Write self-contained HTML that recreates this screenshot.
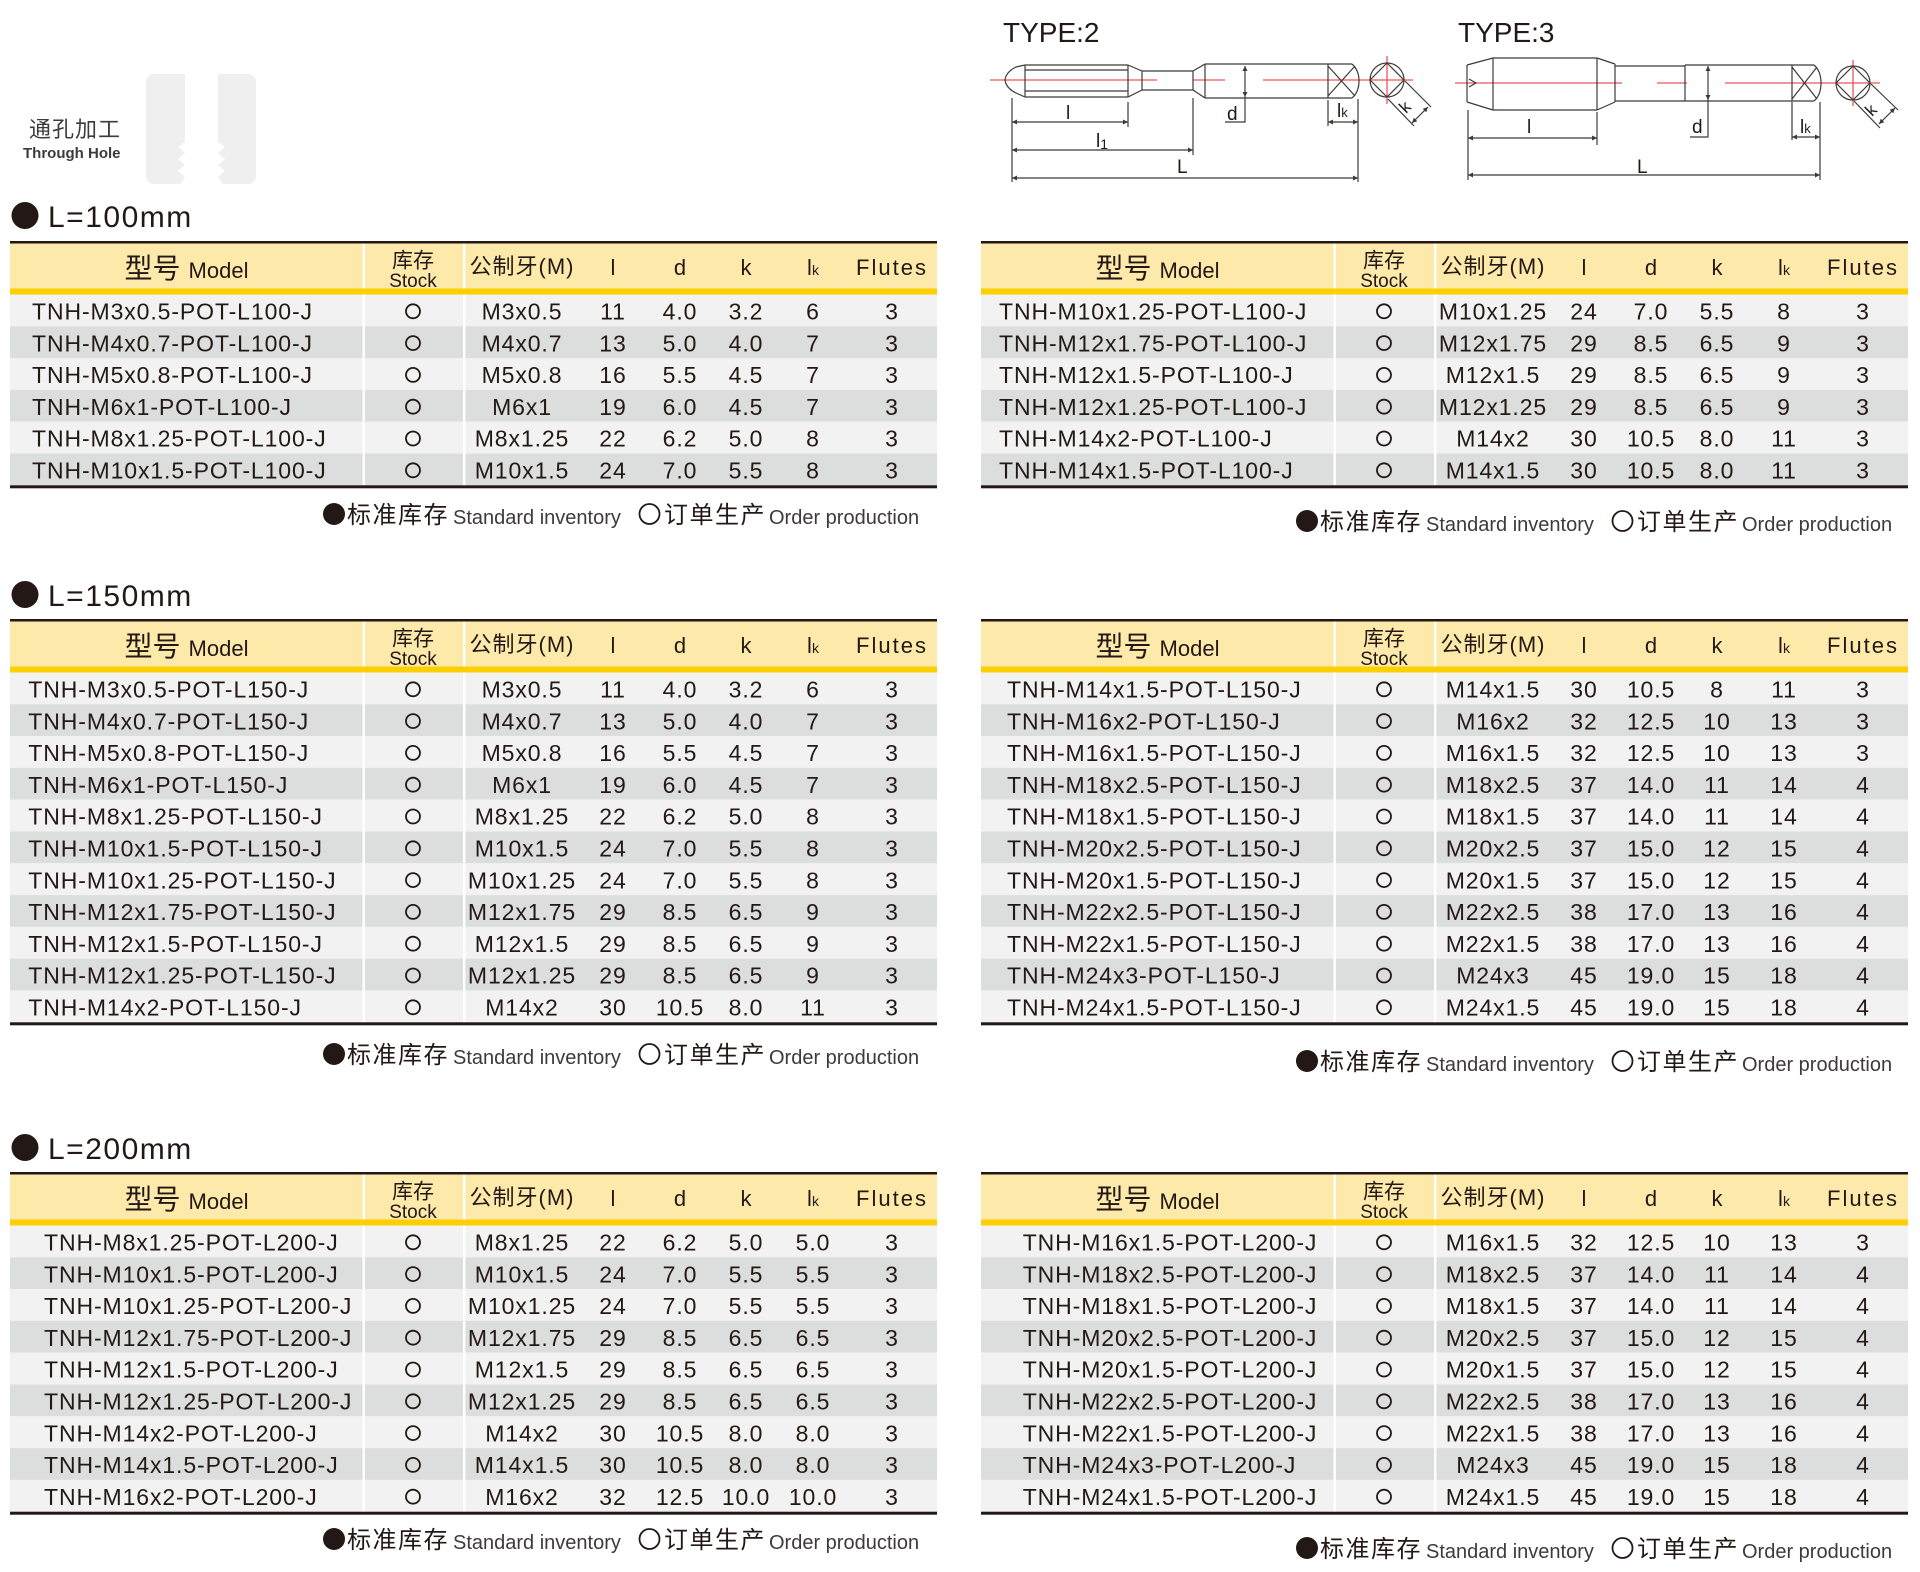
<!DOCTYPE html>
<html>
<head>
<meta charset="utf-8">
<style>
html,body{margin:0;padding:0;background:#fff;}
body{width:1920px;height:1572px;overflow:hidden;position:relative;}
svg{position:absolute;left:0;top:0;}
text{font-family:"Liberation Sans","Noto Sans CJK SC",sans-serif;fill:#231815;}
.r{font-size:23px;letter-spacing:0.9px;}
.c{text-anchor:middle;}
.o{fill:none;stroke:#231815;stroke-width:1.8;}
.h{font-size:22px;}
.dg{stroke:#3e3a39;stroke-width:1.2;fill:none;}
.rd{stroke:#e9545e;stroke-width:1.3;fill:none;}
.dt{font-size:19px;}
</style>
</head>
<body>
<svg width="1920" height="1572" viewBox="0 0 1920 1572" xmlns="http://www.w3.org/2000/svg">
<defs>
<marker id="ar" viewBox="0 0 10 10" refX="10" refY="5" markerWidth="7" markerHeight="5" markerUnits="userSpaceOnUse" orient="auto-start-reverse"><path d="M0,0 L10,5 L0,10 z" fill="#3e3a39"/></marker>
</defs>

<!-- Logo -->
<rect x="146" y="74" width="110" height="110" rx="8" fill="#efefef"/>
<polygon fill="#fff" points="185,74 218,74 218,142 225,147 218,153 225,159 218,165 225,171 218,177 223,184 180,184 185,177 178,171 185,165 178,159 185,153 178,147 185,142"/>
<text x="29" y="137" font-size="22" letter-spacing="1" style="fill:#3e3a39">通孔加工</text>
<text x="23" y="158" font-size="15" font-weight="bold" style="fill:#3e3a39">Through Hole</text>

<!-- TYPE 2 -->
<text x="1003" y="42" font-size="28">TYPE:2</text>
<path class="rd" d="M990,80 H1157 M1193,80 H1225 M1263,80 H1413 M1387,56 V104"/>
<path class="dg" d="M1025,65 L1016,67 Q1006,72 1005,80 Q1006,88 1016,93 L1025,97"/>
<path class="dg" d="M1025,65 H1128 M1025,97 H1128 M1025,70 H1128 M1025,91 H1128 M1025,65 V97 M1128,65 V97"/>
<path class="dg" d="M1128,65 L1142,71 M1128,97 L1142,90 M1142,71 V90 M1142,71 H1193 M1142,90 H1193 M1193,71 V90 M1193,71 L1205,64 M1193,90 L1205,98 M1205,64 V98"/>
<path class="dg" d="M1205,64 H1352 M1205,98 H1352 M1328,64 V98 M1328,66 L1355,96 M1328,96 L1355,66 M1352,64 Q1359,70 1359,81 Q1359,92 1352,98"/>
<circle class="dg" cx="1387" cy="80" r="17"/>
<path class="dg" d="M1387,63 L1404,80 L1387,97 L1370,80 Z"/>
<path class="dg" d="M1388,99 L1414,126 M1405,81 L1431,107"/>
<path class="dg" d="M1412,123 L1428,107" marker-start="url(#ar)" marker-end="url(#ar)"/>
<text transform="translate(1406,114) rotate(-45)" font-size="17">k</text>
<path class="dg" d="M1012,98 V182 M1128,102 V127 M1193,98 V155 M1358,99 V182 M1328,100 V126 M1245,97 V122 H1225"/>
<path class="dg" d="M1012,122 H1128" marker-start="url(#ar)" marker-end="url(#ar)"/>
<path class="dg" d="M1012,150 H1193" marker-start="url(#ar)" marker-end="url(#ar)"/>
<path class="dg" d="M1012,178 H1358" marker-start="url(#ar)" marker-end="url(#ar)"/>
<path class="dg" d="M1328,122 H1358" marker-start="url(#ar)" marker-end="url(#ar)"/>
<path class="dg" d="M1245,66 V97" marker-start="url(#ar)" marker-end="url(#ar)"/>
<text x="1066" y="119" class="dt">l</text>
<text x="1096" y="147" class="dt">l<tspan font-size="14" dy="2">1</tspan></text>
<text x="1177" y="173" class="dt">L</text>
<text x="1227" y="120" class="dt">d</text>
<text x="1337" y="117" class="dt">l<tspan font-size="13">k</tspan></text>

<!-- TYPE 3 -->
<text x="1458" y="42" font-size="28">TYPE:3</text>
<path class="rd" d="M1455,83 H1622 M1657,83 H1687 M1725,83 H1880 M1853,60 V106"/>
<path class="dg" d="M1467,65 V102 M1467,65 L1493,58 M1467,102 L1493,110 M1493,58 H1597 M1493,110 H1597 M1493,58 V110 M1597,58 V110 M1597,58 L1615,64 M1597,110 L1615,102 M1615,64 V102 M1615,66 H1685 M1615,101 H1685 M1685,65 V101 M1685,65 H1814 M1685,101 H1814 M1792,65 V101 M1792,67 L1817,99 M1792,99 L1817,67 M1814,65 Q1821,71 1821,83 Q1821,95 1814,101 M1469,79 L1476,83 L1469,87"/>
<circle class="dg" cx="1853" cy="83" r="17"/>
<path class="dg" d="M1853,66 L1870,83 L1853,100 L1836,83 Z"/>
<path class="dg" d="M1854,101 L1880,128 M1871,84 L1898,110"/>
<path class="dg" d="M1879,124 L1895,108" marker-start="url(#ar)" marker-end="url(#ar)"/>
<text transform="translate(1872,117) rotate(-45)" font-size="17">k</text>
<path class="dg" d="M1468,110 V180 M1597,112 V145 M1820,102 V180 M1792,102 V140 M1708,100 V137 H1690"/>
<path class="dg" d="M1468,138 H1597" marker-start="url(#ar)" marker-end="url(#ar)"/>
<path class="dg" d="M1468,175 H1820" marker-start="url(#ar)" marker-end="url(#ar)"/>
<path class="dg" d="M1792,137 H1820" marker-start="url(#ar)" marker-end="url(#ar)"/>
<path class="dg" d="M1708,66 V100" marker-start="url(#ar)" marker-end="url(#ar)"/>
<text x="1527" y="133" class="dt">l</text>
<text x="1637" y="173" class="dt">L</text>
<text x="1692" y="133" class="dt">d</text>
<text x="1800" y="133" class="dt">l<tspan font-size="13">k</tspan></text>

<!-- Titles -->
<circle cx="25" cy="215.5" r="13.5" fill="#231815"/>
<text x="48" y="227" font-size="30" letter-spacing="1.5">L=100mm</text>
<circle cx="25" cy="594.5" r="13.5" fill="#231815"/>
<text x="48" y="606" font-size="30" letter-spacing="1.5">L=150mm</text>
<circle cx="25" cy="1147.5" r="13.5" fill="#231815"/>
<text x="48" y="1159" font-size="30" letter-spacing="1.5">L=200mm</text>

<!-- ============ TABLE 1 LEFT ============ -->
<g transform="translate(10,241)">
<rect width="927" height="2.5" fill="#231815"/>
<rect y="2.5" width="927" height="45" fill="#fde9a9"/>
<rect y="47.5" width="927" height="6" fill="#fccf00"/>
<rect x="352.5" y="2.5" width="2.4" height="45" fill="#fff"/>
<rect x="453" y="2.5" width="2.4" height="45" fill="#fff"/>
<text x="176.5" y="37" class="c"><tspan font-size="28">型号</tspan><tspan font-size="22" dx="8">Model</tspan></text>
<text x="403" y="26.5" class="c" font-size="21">库存</text>
<text x="403" y="46" class="c" font-size="19">Stock</text>
<text x="512" y="33" class="c h" letter-spacing="1">公制牙(M)</text>
<text x="603" y="34" class="c h">l</text>
<text x="670" y="34" class="c h">d</text>
<text x="736" y="34" class="c h">k</text>
<text x="803" y="34" class="c"><tspan font-size="22">l</tspan><tspan font-size="14">k</tspan></text>
<text x="882" y="34" class="c h" letter-spacing="2">Flutes</text>
<g transform="translate(0,53.5)"><rect width="927" height="31.8" fill="#f2f2f2"/><text x="22" y="25" class="r">TNH-M3x0.5-POT-L100-J</text><text y="25" class="r c"><tspan x="512">M3x0.5</tspan><tspan x="603">11</tspan><tspan x="670">4.0</tspan><tspan x="736">3.2</tspan><tspan x="803">6</tspan><tspan x="882">3</tspan></text><circle cx="403" cy="16.8" r="7" class="o"/></g>
<g transform="translate(0,85.3)"><rect width="927" height="31.8" fill="#dcdddd"/><text x="22" y="25" class="r">TNH-M4x0.7-POT-L100-J</text><text y="25" class="r c"><tspan x="512">M4x0.7</tspan><tspan x="603">13</tspan><tspan x="670">5.0</tspan><tspan x="736">4.0</tspan><tspan x="803">7</tspan><tspan x="882">3</tspan></text><circle cx="403" cy="16.8" r="7" class="o"/></g>
<g transform="translate(0,117.1)"><rect width="927" height="31.8" fill="#f2f2f2"/><text x="22" y="25" class="r">TNH-M5x0.8-POT-L100-J</text><text y="25" class="r c"><tspan x="512">M5x0.8</tspan><tspan x="603">16</tspan><tspan x="670">5.5</tspan><tspan x="736">4.5</tspan><tspan x="803">7</tspan><tspan x="882">3</tspan></text><circle cx="403" cy="16.8" r="7" class="o"/></g>
<g transform="translate(0,148.9)"><rect width="927" height="31.8" fill="#dcdddd"/><text x="22" y="25" class="r">TNH-M6x1-POT-L100-J</text><text y="25" class="r c"><tspan x="512">M6x1</tspan><tspan x="603">19</tspan><tspan x="670">6.0</tspan><tspan x="736">4.5</tspan><tspan x="803">7</tspan><tspan x="882">3</tspan></text><circle cx="403" cy="16.8" r="7" class="o"/></g>
<g transform="translate(0,180.7)"><rect width="927" height="31.8" fill="#f2f2f2"/><text x="22" y="25" class="r">TNH-M8x1.25-POT-L100-J</text><text y="25" class="r c"><tspan x="512">M8x1.25</tspan><tspan x="603">22</tspan><tspan x="670">6.2</tspan><tspan x="736">5.0</tspan><tspan x="803">8</tspan><tspan x="882">3</tspan></text><circle cx="403" cy="16.8" r="7" class="o"/></g>
<g transform="translate(0,212.5)"><rect width="927" height="31.8" fill="#dcdddd"/><text x="22" y="25" class="r">TNH-M10x1.5-POT-L100-J</text><text y="25" class="r c"><tspan x="512">M10x1.5</tspan><tspan x="603">24</tspan><tspan x="670">7.0</tspan><tspan x="736">5.5</tspan><tspan x="803">8</tspan><tspan x="882">3</tspan></text><circle cx="403" cy="16.8" r="7" class="o"/></g>
<rect x="352.5" y="53.5" width="2.4" height="190.8" fill="#fff"/>
<rect x="453" y="53.5" width="2.4" height="190.8" fill="#fff"/>
<rect y="244.3" width="927" height="3" fill="#231815"/>
</g>

<!-- ============ TABLE 1 RIGHT ============ -->
<g transform="translate(981,241)">
<rect width="927" height="2.5" fill="#231815"/>
<rect y="2.5" width="927" height="45" fill="#fde9a9"/>
<rect y="47.5" width="927" height="6" fill="#fccf00"/>
<rect x="352.5" y="2.5" width="2.4" height="45" fill="#fff"/>
<rect x="453" y="2.5" width="2.4" height="45" fill="#fff"/>
<text x="176.5" y="37" class="c"><tspan font-size="28">型号</tspan><tspan font-size="22" dx="8">Model</tspan></text>
<text x="403" y="26.5" class="c" font-size="21">库存</text>
<text x="403" y="46" class="c" font-size="19">Stock</text>
<text x="512" y="33" class="c h" letter-spacing="1">公制牙(M)</text>
<text x="603" y="34" class="c h">l</text>
<text x="670" y="34" class="c h">d</text>
<text x="736" y="34" class="c h">k</text>
<text x="803" y="34" class="c"><tspan font-size="22">l</tspan><tspan font-size="14">k</tspan></text>
<text x="882" y="34" class="c h" letter-spacing="2">Flutes</text>
<g transform="translate(0,53.5)"><rect width="927" height="31.8" fill="#f2f2f2"/><text x="18" y="25" class="r">TNH-M10x1.25-POT-L100-J</text><text y="25" class="r c"><tspan x="512">M10x1.25</tspan><tspan x="603">24</tspan><tspan x="670">7.0</tspan><tspan x="736">5.5</tspan><tspan x="803">8</tspan><tspan x="882">3</tspan></text><circle cx="403" cy="16.8" r="7" class="o"/></g>
<g transform="translate(0,85.3)"><rect width="927" height="31.8" fill="#dcdddd"/><text x="18" y="25" class="r">TNH-M12x1.75-POT-L100-J</text><text y="25" class="r c"><tspan x="512">M12x1.75</tspan><tspan x="603">29</tspan><tspan x="670">8.5</tspan><tspan x="736">6.5</tspan><tspan x="803">9</tspan><tspan x="882">3</tspan></text><circle cx="403" cy="16.8" r="7" class="o"/></g>
<g transform="translate(0,117.1)"><rect width="927" height="31.8" fill="#f2f2f2"/><text x="18" y="25" class="r">TNH-M12x1.5-POT-L100-J</text><text y="25" class="r c"><tspan x="512">M12x1.5</tspan><tspan x="603">29</tspan><tspan x="670">8.5</tspan><tspan x="736">6.5</tspan><tspan x="803">9</tspan><tspan x="882">3</tspan></text><circle cx="403" cy="16.8" r="7" class="o"/></g>
<g transform="translate(0,148.9)"><rect width="927" height="31.8" fill="#dcdddd"/><text x="18" y="25" class="r">TNH-M12x1.25-POT-L100-J</text><text y="25" class="r c"><tspan x="512">M12x1.25</tspan><tspan x="603">29</tspan><tspan x="670">8.5</tspan><tspan x="736">6.5</tspan><tspan x="803">9</tspan><tspan x="882">3</tspan></text><circle cx="403" cy="16.8" r="7" class="o"/></g>
<g transform="translate(0,180.7)"><rect width="927" height="31.8" fill="#f2f2f2"/><text x="18" y="25" class="r">TNH-M14x2-POT-L100-J</text><text y="25" class="r c"><tspan x="512">M14x2</tspan><tspan x="603">30</tspan><tspan x="670">10.5</tspan><tspan x="736">8.0</tspan><tspan x="803">11</tspan><tspan x="882">3</tspan></text><circle cx="403" cy="16.8" r="7" class="o"/></g>
<g transform="translate(0,212.5)"><rect width="927" height="31.8" fill="#dcdddd"/><text x="18" y="25" class="r">TNH-M14x1.5-POT-L100-J</text><text y="25" class="r c"><tspan x="512">M14x1.5</tspan><tspan x="603">30</tspan><tspan x="670">10.5</tspan><tspan x="736">8.0</tspan><tspan x="803">11</tspan><tspan x="882">3</tspan></text><circle cx="403" cy="16.8" r="7" class="o"/></g>
<rect x="352.5" y="53.5" width="2.4" height="190.8" fill="#fff"/>
<rect x="453" y="53.5" width="2.4" height="190.8" fill="#fff"/>
<rect y="244.3" width="927" height="3" fill="#231815"/>
</g>

<!-- ============ TABLE 2 LEFT ============ -->
<g transform="translate(10,619)">
<rect width="927" height="2.5" fill="#231815"/>
<rect y="2.5" width="927" height="45" fill="#fde9a9"/>
<rect y="47.5" width="927" height="6" fill="#fccf00"/>
<rect x="352.5" y="2.5" width="2.4" height="45" fill="#fff"/>
<rect x="453" y="2.5" width="2.4" height="45" fill="#fff"/>
<text x="176.5" y="37" class="c"><tspan font-size="28">型号</tspan><tspan font-size="22" dx="8">Model</tspan></text>
<text x="403" y="26.5" class="c" font-size="21">库存</text>
<text x="403" y="46" class="c" font-size="19">Stock</text>
<text x="512" y="33" class="c h" letter-spacing="1">公制牙(M)</text>
<text x="603" y="34" class="c h">l</text>
<text x="670" y="34" class="c h">d</text>
<text x="736" y="34" class="c h">k</text>
<text x="803" y="34" class="c"><tspan font-size="22">l</tspan><tspan font-size="14">k</tspan></text>
<text x="882" y="34" class="c h" letter-spacing="2">Flutes</text>
<g transform="translate(0,53.5)"><rect width="927" height="31.8" fill="#f2f2f2"/><text x="18.3" y="25" class="r">TNH-M3x0.5-POT-L150-J</text><text y="25" class="r c"><tspan x="512">M3x0.5</tspan><tspan x="603">11</tspan><tspan x="670">4.0</tspan><tspan x="736">3.2</tspan><tspan x="803">6</tspan><tspan x="882">3</tspan></text><circle cx="403" cy="16.8" r="7" class="o"/></g>
<g transform="translate(0,85.3)"><rect width="927" height="31.8" fill="#dcdddd"/><text x="18.3" y="25" class="r">TNH-M4x0.7-POT-L150-J</text><text y="25" class="r c"><tspan x="512">M4x0.7</tspan><tspan x="603">13</tspan><tspan x="670">5.0</tspan><tspan x="736">4.0</tspan><tspan x="803">7</tspan><tspan x="882">3</tspan></text><circle cx="403" cy="16.8" r="7" class="o"/></g>
<g transform="translate(0,117.1)"><rect width="927" height="31.8" fill="#f2f2f2"/><text x="18.3" y="25" class="r">TNH-M5x0.8-POT-L150-J</text><text y="25" class="r c"><tspan x="512">M5x0.8</tspan><tspan x="603">16</tspan><tspan x="670">5.5</tspan><tspan x="736">4.5</tspan><tspan x="803">7</tspan><tspan x="882">3</tspan></text><circle cx="403" cy="16.8" r="7" class="o"/></g>
<g transform="translate(0,148.9)"><rect width="927" height="31.8" fill="#dcdddd"/><text x="18.3" y="25" class="r">TNH-M6x1-POT-L150-J</text><text y="25" class="r c"><tspan x="512">M6x1</tspan><tspan x="603">19</tspan><tspan x="670">6.0</tspan><tspan x="736">4.5</tspan><tspan x="803">7</tspan><tspan x="882">3</tspan></text><circle cx="403" cy="16.8" r="7" class="o"/></g>
<g transform="translate(0,180.7)"><rect width="927" height="31.8" fill="#f2f2f2"/><text x="18.3" y="25" class="r">TNH-M8x1.25-POT-L150-J</text><text y="25" class="r c"><tspan x="512">M8x1.25</tspan><tspan x="603">22</tspan><tspan x="670">6.2</tspan><tspan x="736">5.0</tspan><tspan x="803">8</tspan><tspan x="882">3</tspan></text><circle cx="403" cy="16.8" r="7" class="o"/></g>
<g transform="translate(0,212.5)"><rect width="927" height="31.8" fill="#dcdddd"/><text x="18.3" y="25" class="r">TNH-M10x1.5-POT-L150-J</text><text y="25" class="r c"><tspan x="512">M10x1.5</tspan><tspan x="603">24</tspan><tspan x="670">7.0</tspan><tspan x="736">5.5</tspan><tspan x="803">8</tspan><tspan x="882">3</tspan></text><circle cx="403" cy="16.8" r="7" class="o"/></g>
<g transform="translate(0,244.3)"><rect width="927" height="31.8" fill="#f2f2f2"/><text x="18.3" y="25" class="r">TNH-M10x1.25-POT-L150-J</text><text y="25" class="r c"><tspan x="512">M10x1.25</tspan><tspan x="603">24</tspan><tspan x="670">7.0</tspan><tspan x="736">5.5</tspan><tspan x="803">8</tspan><tspan x="882">3</tspan></text><circle cx="403" cy="16.8" r="7" class="o"/></g>
<g transform="translate(0,276.1)"><rect width="927" height="31.8" fill="#dcdddd"/><text x="18.3" y="25" class="r">TNH-M12x1.75-POT-L150-J</text><text y="25" class="r c"><tspan x="512">M12x1.75</tspan><tspan x="603">29</tspan><tspan x="670">8.5</tspan><tspan x="736">6.5</tspan><tspan x="803">9</tspan><tspan x="882">3</tspan></text><circle cx="403" cy="16.8" r="7" class="o"/></g>
<g transform="translate(0,307.9)"><rect width="927" height="31.8" fill="#f2f2f2"/><text x="18.3" y="25" class="r">TNH-M12x1.5-POT-L150-J</text><text y="25" class="r c"><tspan x="512">M12x1.5</tspan><tspan x="603">29</tspan><tspan x="670">8.5</tspan><tspan x="736">6.5</tspan><tspan x="803">9</tspan><tspan x="882">3</tspan></text><circle cx="403" cy="16.8" r="7" class="o"/></g>
<g transform="translate(0,339.7)"><rect width="927" height="31.8" fill="#dcdddd"/><text x="18.3" y="25" class="r">TNH-M12x1.25-POT-L150-J</text><text y="25" class="r c"><tspan x="512">M12x1.25</tspan><tspan x="603">29</tspan><tspan x="670">8.5</tspan><tspan x="736">6.5</tspan><tspan x="803">9</tspan><tspan x="882">3</tspan></text><circle cx="403" cy="16.8" r="7" class="o"/></g>
<g transform="translate(0,371.5)"><rect width="927" height="31.8" fill="#f2f2f2"/><text x="18.3" y="25" class="r">TNH-M14x2-POT-L150-J</text><text y="25" class="r c"><tspan x="512">M14x2</tspan><tspan x="603">30</tspan><tspan x="670">10.5</tspan><tspan x="736">8.0</tspan><tspan x="803">11</tspan><tspan x="882">3</tspan></text><circle cx="403" cy="16.8" r="7" class="o"/></g>
<rect x="352.5" y="53.5" width="2.4" height="349.8" fill="#fff"/>
<rect x="453" y="53.5" width="2.4" height="349.8" fill="#fff"/>
<rect y="403.3" width="927" height="3" fill="#231815"/>
</g>

<!-- ============ TABLE 2 RIGHT ============ -->
<g transform="translate(981,619)">
<rect width="927" height="2.5" fill="#231815"/>
<rect y="2.5" width="927" height="45" fill="#fde9a9"/>
<rect y="47.5" width="927" height="6" fill="#fccf00"/>
<rect x="352.5" y="2.5" width="2.4" height="45" fill="#fff"/>
<rect x="453" y="2.5" width="2.4" height="45" fill="#fff"/>
<text x="176.5" y="37" class="c"><tspan font-size="28">型号</tspan><tspan font-size="22" dx="8">Model</tspan></text>
<text x="403" y="26.5" class="c" font-size="21">库存</text>
<text x="403" y="46" class="c" font-size="19">Stock</text>
<text x="512" y="33" class="c h" letter-spacing="1">公制牙(M)</text>
<text x="603" y="34" class="c h">l</text>
<text x="670" y="34" class="c h">d</text>
<text x="736" y="34" class="c h">k</text>
<text x="803" y="34" class="c"><tspan font-size="22">l</tspan><tspan font-size="14">k</tspan></text>
<text x="882" y="34" class="c h" letter-spacing="2">Flutes</text>
<g transform="translate(0,53.5)"><rect width="927" height="31.8" fill="#f2f2f2"/><text x="26" y="25" class="r">TNH-M14x1.5-POT-L150-J</text><text y="25" class="r c"><tspan x="512">M14x1.5</tspan><tspan x="603">30</tspan><tspan x="670">10.5</tspan><tspan x="736">8</tspan><tspan x="803">11</tspan><tspan x="882">3</tspan></text><circle cx="403" cy="16.8" r="7" class="o"/></g>
<g transform="translate(0,85.3)"><rect width="927" height="31.8" fill="#dcdddd"/><text x="26" y="25" class="r">TNH-M16x2-POT-L150-J</text><text y="25" class="r c"><tspan x="512">M16x2</tspan><tspan x="603">32</tspan><tspan x="670">12.5</tspan><tspan x="736">10</tspan><tspan x="803">13</tspan><tspan x="882">3</tspan></text><circle cx="403" cy="16.8" r="7" class="o"/></g>
<g transform="translate(0,117.1)"><rect width="927" height="31.8" fill="#f2f2f2"/><text x="26" y="25" class="r">TNH-M16x1.5-POT-L150-J</text><text y="25" class="r c"><tspan x="512">M16x1.5</tspan><tspan x="603">32</tspan><tspan x="670">12.5</tspan><tspan x="736">10</tspan><tspan x="803">13</tspan><tspan x="882">3</tspan></text><circle cx="403" cy="16.8" r="7" class="o"/></g>
<g transform="translate(0,148.9)"><rect width="927" height="31.8" fill="#dcdddd"/><text x="26" y="25" class="r">TNH-M18x2.5-POT-L150-J</text><text y="25" class="r c"><tspan x="512">M18x2.5</tspan><tspan x="603">37</tspan><tspan x="670">14.0</tspan><tspan x="736">11</tspan><tspan x="803">14</tspan><tspan x="882">4</tspan></text><circle cx="403" cy="16.8" r="7" class="o"/></g>
<g transform="translate(0,180.7)"><rect width="927" height="31.8" fill="#f2f2f2"/><text x="26" y="25" class="r">TNH-M18x1.5-POT-L150-J</text><text y="25" class="r c"><tspan x="512">M18x1.5</tspan><tspan x="603">37</tspan><tspan x="670">14.0</tspan><tspan x="736">11</tspan><tspan x="803">14</tspan><tspan x="882">4</tspan></text><circle cx="403" cy="16.8" r="7" class="o"/></g>
<g transform="translate(0,212.5)"><rect width="927" height="31.8" fill="#dcdddd"/><text x="26" y="25" class="r">TNH-M20x2.5-POT-L150-J</text><text y="25" class="r c"><tspan x="512">M20x2.5</tspan><tspan x="603">37</tspan><tspan x="670">15.0</tspan><tspan x="736">12</tspan><tspan x="803">15</tspan><tspan x="882">4</tspan></text><circle cx="403" cy="16.8" r="7" class="o"/></g>
<g transform="translate(0,244.3)"><rect width="927" height="31.8" fill="#f2f2f2"/><text x="26" y="25" class="r">TNH-M20x1.5-POT-L150-J</text><text y="25" class="r c"><tspan x="512">M20x1.5</tspan><tspan x="603">37</tspan><tspan x="670">15.0</tspan><tspan x="736">12</tspan><tspan x="803">15</tspan><tspan x="882">4</tspan></text><circle cx="403" cy="16.8" r="7" class="o"/></g>
<g transform="translate(0,276.1)"><rect width="927" height="31.8" fill="#dcdddd"/><text x="26" y="25" class="r">TNH-M22x2.5-POT-L150-J</text><text y="25" class="r c"><tspan x="512">M22x2.5</tspan><tspan x="603">38</tspan><tspan x="670">17.0</tspan><tspan x="736">13</tspan><tspan x="803">16</tspan><tspan x="882">4</tspan></text><circle cx="403" cy="16.8" r="7" class="o"/></g>
<g transform="translate(0,307.9)"><rect width="927" height="31.8" fill="#f2f2f2"/><text x="26" y="25" class="r">TNH-M22x1.5-POT-L150-J</text><text y="25" class="r c"><tspan x="512">M22x1.5</tspan><tspan x="603">38</tspan><tspan x="670">17.0</tspan><tspan x="736">13</tspan><tspan x="803">16</tspan><tspan x="882">4</tspan></text><circle cx="403" cy="16.8" r="7" class="o"/></g>
<g transform="translate(0,339.7)"><rect width="927" height="31.8" fill="#dcdddd"/><text x="26" y="25" class="r">TNH-M24x3-POT-L150-J</text><text y="25" class="r c"><tspan x="512">M24x3</tspan><tspan x="603">45</tspan><tspan x="670">19.0</tspan><tspan x="736">15</tspan><tspan x="803">18</tspan><tspan x="882">4</tspan></text><circle cx="403" cy="16.8" r="7" class="o"/></g>
<g transform="translate(0,371.5)"><rect width="927" height="31.8" fill="#f2f2f2"/><text x="26" y="25" class="r">TNH-M24x1.5-POT-L150-J</text><text y="25" class="r c"><tspan x="512">M24x1.5</tspan><tspan x="603">45</tspan><tspan x="670">19.0</tspan><tspan x="736">15</tspan><tspan x="803">18</tspan><tspan x="882">4</tspan></text><circle cx="403" cy="16.8" r="7" class="o"/></g>
<rect x="352.5" y="53.5" width="2.4" height="349.8" fill="#fff"/>
<rect x="453" y="53.5" width="2.4" height="349.8" fill="#fff"/>
<rect y="403.3" width="927" height="3" fill="#231815"/>
</g>

<!-- ============ TABLE 3 LEFT ============ -->
<g transform="translate(10,1172)">
<rect width="927" height="2.5" fill="#231815"/>
<rect y="2.5" width="927" height="45" fill="#fde9a9"/>
<rect y="47.5" width="927" height="6" fill="#fccf00"/>
<rect x="352.5" y="2.5" width="2.4" height="45" fill="#fff"/>
<rect x="453" y="2.5" width="2.4" height="45" fill="#fff"/>
<text x="176.5" y="37" class="c"><tspan font-size="28">型号</tspan><tspan font-size="22" dx="8">Model</tspan></text>
<text x="403" y="26.5" class="c" font-size="21">库存</text>
<text x="403" y="46" class="c" font-size="19">Stock</text>
<text x="512" y="33" class="c h" letter-spacing="1">公制牙(M)</text>
<text x="603" y="34" class="c h">l</text>
<text x="670" y="34" class="c h">d</text>
<text x="736" y="34" class="c h">k</text>
<text x="803" y="34" class="c"><tspan font-size="22">l</tspan><tspan font-size="14">k</tspan></text>
<text x="882" y="34" class="c h" letter-spacing="2">Flutes</text>
<g transform="translate(0,53.5)"><rect width="927" height="31.8" fill="#f2f2f2"/><text x="34" y="25" class="r">TNH-M8x1.25-POT-L200-J</text><text y="25" class="r c"><tspan x="512">M8x1.25</tspan><tspan x="603">22</tspan><tspan x="670">6.2</tspan><tspan x="736">5.0</tspan><tspan x="803">5.0</tspan><tspan x="882">3</tspan></text><circle cx="403" cy="16.8" r="7" class="o"/></g>
<g transform="translate(0,85.3)"><rect width="927" height="31.8" fill="#dcdddd"/><text x="34" y="25" class="r">TNH-M10x1.5-POT-L200-J</text><text y="25" class="r c"><tspan x="512">M10x1.5</tspan><tspan x="603">24</tspan><tspan x="670">7.0</tspan><tspan x="736">5.5</tspan><tspan x="803">5.5</tspan><tspan x="882">3</tspan></text><circle cx="403" cy="16.8" r="7" class="o"/></g>
<g transform="translate(0,117.1)"><rect width="927" height="31.8" fill="#f2f2f2"/><text x="34" y="25" class="r">TNH-M10x1.25-POT-L200-J</text><text y="25" class="r c"><tspan x="512">M10x1.25</tspan><tspan x="603">24</tspan><tspan x="670">7.0</tspan><tspan x="736">5.5</tspan><tspan x="803">5.5</tspan><tspan x="882">3</tspan></text><circle cx="403" cy="16.8" r="7" class="o"/></g>
<g transform="translate(0,148.9)"><rect width="927" height="31.8" fill="#dcdddd"/><text x="34" y="25" class="r">TNH-M12x1.75-POT-L200-J</text><text y="25" class="r c"><tspan x="512">M12x1.75</tspan><tspan x="603">29</tspan><tspan x="670">8.5</tspan><tspan x="736">6.5</tspan><tspan x="803">6.5</tspan><tspan x="882">3</tspan></text><circle cx="403" cy="16.8" r="7" class="o"/></g>
<g transform="translate(0,180.7)"><rect width="927" height="31.8" fill="#f2f2f2"/><text x="34" y="25" class="r">TNH-M12x1.5-POT-L200-J</text><text y="25" class="r c"><tspan x="512">M12x1.5</tspan><tspan x="603">29</tspan><tspan x="670">8.5</tspan><tspan x="736">6.5</tspan><tspan x="803">6.5</tspan><tspan x="882">3</tspan></text><circle cx="403" cy="16.8" r="7" class="o"/></g>
<g transform="translate(0,212.5)"><rect width="927" height="31.8" fill="#dcdddd"/><text x="34" y="25" class="r">TNH-M12x1.25-POT-L200-J</text><text y="25" class="r c"><tspan x="512">M12x1.25</tspan><tspan x="603">29</tspan><tspan x="670">8.5</tspan><tspan x="736">6.5</tspan><tspan x="803">6.5</tspan><tspan x="882">3</tspan></text><circle cx="403" cy="16.8" r="7" class="o"/></g>
<g transform="translate(0,244.3)"><rect width="927" height="31.8" fill="#f2f2f2"/><text x="34" y="25" class="r">TNH-M14x2-POT-L200-J</text><text y="25" class="r c"><tspan x="512">M14x2</tspan><tspan x="603">30</tspan><tspan x="670">10.5</tspan><tspan x="736">8.0</tspan><tspan x="803">8.0</tspan><tspan x="882">3</tspan></text><circle cx="403" cy="16.8" r="7" class="o"/></g>
<g transform="translate(0,276.1)"><rect width="927" height="31.8" fill="#dcdddd"/><text x="34" y="25" class="r">TNH-M14x1.5-POT-L200-J</text><text y="25" class="r c"><tspan x="512">M14x1.5</tspan><tspan x="603">30</tspan><tspan x="670">10.5</tspan><tspan x="736">8.0</tspan><tspan x="803">8.0</tspan><tspan x="882">3</tspan></text><circle cx="403" cy="16.8" r="7" class="o"/></g>
<g transform="translate(0,307.9)"><rect width="927" height="31.8" fill="#f2f2f2"/><text x="34" y="25" class="r">TNH-M16x2-POT-L200-J</text><text y="25" class="r c"><tspan x="512">M16x2</tspan><tspan x="603">32</tspan><tspan x="670">12.5</tspan><tspan x="736">10.0</tspan><tspan x="803">10.0</tspan><tspan x="882">3</tspan></text><circle cx="403" cy="16.8" r="7" class="o"/></g>
<rect x="352.5" y="53.5" width="2.4" height="286.2" fill="#fff"/>
<rect x="453" y="53.5" width="2.4" height="286.2" fill="#fff"/>
<rect y="339.7" width="927" height="3" fill="#231815"/>
</g>

<!-- ============ TABLE 3 RIGHT ============ -->
<g transform="translate(981,1172)">
<rect width="927" height="2.5" fill="#231815"/>
<rect y="2.5" width="927" height="45" fill="#fde9a9"/>
<rect y="47.5" width="927" height="6" fill="#fccf00"/>
<rect x="352.5" y="2.5" width="2.4" height="45" fill="#fff"/>
<rect x="453" y="2.5" width="2.4" height="45" fill="#fff"/>
<text x="176.5" y="37" class="c"><tspan font-size="28">型号</tspan><tspan font-size="22" dx="8">Model</tspan></text>
<text x="403" y="26.5" class="c" font-size="21">库存</text>
<text x="403" y="46" class="c" font-size="19">Stock</text>
<text x="512" y="33" class="c h" letter-spacing="1">公制牙(M)</text>
<text x="603" y="34" class="c h">l</text>
<text x="670" y="34" class="c h">d</text>
<text x="736" y="34" class="c h">k</text>
<text x="803" y="34" class="c"><tspan font-size="22">l</tspan><tspan font-size="14">k</tspan></text>
<text x="882" y="34" class="c h" letter-spacing="2">Flutes</text>
<g transform="translate(0,53.5)"><rect width="927" height="31.8" fill="#f2f2f2"/><text x="41.7" y="25" class="r">TNH-M16x1.5-POT-L200-J</text><text y="25" class="r c"><tspan x="512">M16x1.5</tspan><tspan x="603">32</tspan><tspan x="670">12.5</tspan><tspan x="736">10</tspan><tspan x="803">13</tspan><tspan x="882">3</tspan></text><circle cx="403" cy="16.8" r="7" class="o"/></g>
<g transform="translate(0,85.3)"><rect width="927" height="31.8" fill="#dcdddd"/><text x="41.7" y="25" class="r">TNH-M18x2.5-POT-L200-J</text><text y="25" class="r c"><tspan x="512">M18x2.5</tspan><tspan x="603">37</tspan><tspan x="670">14.0</tspan><tspan x="736">11</tspan><tspan x="803">14</tspan><tspan x="882">4</tspan></text><circle cx="403" cy="16.8" r="7" class="o"/></g>
<g transform="translate(0,117.1)"><rect width="927" height="31.8" fill="#f2f2f2"/><text x="41.7" y="25" class="r">TNH-M18x1.5-POT-L200-J</text><text y="25" class="r c"><tspan x="512">M18x1.5</tspan><tspan x="603">37</tspan><tspan x="670">14.0</tspan><tspan x="736">11</tspan><tspan x="803">14</tspan><tspan x="882">4</tspan></text><circle cx="403" cy="16.8" r="7" class="o"/></g>
<g transform="translate(0,148.9)"><rect width="927" height="31.8" fill="#dcdddd"/><text x="41.7" y="25" class="r">TNH-M20x2.5-POT-L200-J</text><text y="25" class="r c"><tspan x="512">M20x2.5</tspan><tspan x="603">37</tspan><tspan x="670">15.0</tspan><tspan x="736">12</tspan><tspan x="803">15</tspan><tspan x="882">4</tspan></text><circle cx="403" cy="16.8" r="7" class="o"/></g>
<g transform="translate(0,180.7)"><rect width="927" height="31.8" fill="#f2f2f2"/><text x="41.7" y="25" class="r">TNH-M20x1.5-POT-L200-J</text><text y="25" class="r c"><tspan x="512">M20x1.5</tspan><tspan x="603">37</tspan><tspan x="670">15.0</tspan><tspan x="736">12</tspan><tspan x="803">15</tspan><tspan x="882">4</tspan></text><circle cx="403" cy="16.8" r="7" class="o"/></g>
<g transform="translate(0,212.5)"><rect width="927" height="31.8" fill="#dcdddd"/><text x="41.7" y="25" class="r">TNH-M22x2.5-POT-L200-J</text><text y="25" class="r c"><tspan x="512">M22x2.5</tspan><tspan x="603">38</tspan><tspan x="670">17.0</tspan><tspan x="736">13</tspan><tspan x="803">16</tspan><tspan x="882">4</tspan></text><circle cx="403" cy="16.8" r="7" class="o"/></g>
<g transform="translate(0,244.3)"><rect width="927" height="31.8" fill="#f2f2f2"/><text x="41.7" y="25" class="r">TNH-M22x1.5-POT-L200-J</text><text y="25" class="r c"><tspan x="512">M22x1.5</tspan><tspan x="603">38</tspan><tspan x="670">17.0</tspan><tspan x="736">13</tspan><tspan x="803">16</tspan><tspan x="882">4</tspan></text><circle cx="403" cy="16.8" r="7" class="o"/></g>
<g transform="translate(0,276.1)"><rect width="927" height="31.8" fill="#dcdddd"/><text x="41.7" y="25" class="r">TNH-M24x3-POT-L200-J</text><text y="25" class="r c"><tspan x="512">M24x3</tspan><tspan x="603">45</tspan><tspan x="670">19.0</tspan><tspan x="736">15</tspan><tspan x="803">18</tspan><tspan x="882">4</tspan></text><circle cx="403" cy="16.8" r="7" class="o"/></g>
<g transform="translate(0,307.9)"><rect width="927" height="31.8" fill="#f2f2f2"/><text x="41.7" y="25" class="r">TNH-M24x1.5-POT-L200-J</text><text y="25" class="r c"><tspan x="512">M24x1.5</tspan><tspan x="603">45</tspan><tspan x="670">19.0</tspan><tspan x="736">15</tspan><tspan x="803">18</tspan><tspan x="882">4</tspan></text><circle cx="403" cy="16.8" r="7" class="o"/></g>
<rect x="352.5" y="53.5" width="2.4" height="286.2" fill="#fff"/>
<rect x="453" y="53.5" width="2.4" height="286.2" fill="#fff"/>
<rect y="339.7" width="927" height="3" fill="#231815"/>
</g>

<!-- ============ LEGENDS ============ -->
<g transform="translate(0,0)">
<circle cx="334" cy="514" r="11" fill="#231815"/>
<text x="347" y="523" font-size="24" letter-spacing="1.5">标准库存</text>
<text x="453" y="524" font-size="20" style="fill:#3e3a39">Standard inventory</text>
<circle cx="649.5" cy="514" r="10" class="o"/>
<text x="664" y="523" font-size="24" letter-spacing="1.5">订单生产</text>
<text x="769" y="524" font-size="20" style="fill:#3e3a39">Order production</text>
</g>
<g transform="translate(973,7)">
<circle cx="334" cy="514" r="11" fill="#231815"/>
<text x="347" y="523" font-size="24" letter-spacing="1.5">标准库存</text>
<text x="453" y="524" font-size="20" style="fill:#3e3a39">Standard inventory</text>
<circle cx="649.5" cy="514" r="10" class="o"/>
<text x="664" y="523" font-size="24" letter-spacing="1.5">订单生产</text>
<text x="769" y="524" font-size="20" style="fill:#3e3a39">Order production</text>
</g>
<g transform="translate(0,540)">
<circle cx="334" cy="514" r="11" fill="#231815"/>
<text x="347" y="523" font-size="24" letter-spacing="1.5">标准库存</text>
<text x="453" y="524" font-size="20" style="fill:#3e3a39">Standard inventory</text>
<circle cx="649.5" cy="514" r="10" class="o"/>
<text x="664" y="523" font-size="24" letter-spacing="1.5">订单生产</text>
<text x="769" y="524" font-size="20" style="fill:#3e3a39">Order production</text>
</g>
<g transform="translate(973,547)">
<circle cx="334" cy="514" r="11" fill="#231815"/>
<text x="347" y="523" font-size="24" letter-spacing="1.5">标准库存</text>
<text x="453" y="524" font-size="20" style="fill:#3e3a39">Standard inventory</text>
<circle cx="649.5" cy="514" r="10" class="o"/>
<text x="664" y="523" font-size="24" letter-spacing="1.5">订单生产</text>
<text x="769" y="524" font-size="20" style="fill:#3e3a39">Order production</text>
</g>
<g transform="translate(0,1025)">
<circle cx="334" cy="514" r="11" fill="#231815"/>
<text x="347" y="523" font-size="24" letter-spacing="1.5">标准库存</text>
<text x="453" y="524" font-size="20" style="fill:#3e3a39">Standard inventory</text>
<circle cx="649.5" cy="514" r="10" class="o"/>
<text x="664" y="523" font-size="24" letter-spacing="1.5">订单生产</text>
<text x="769" y="524" font-size="20" style="fill:#3e3a39">Order production</text>
</g>
<g transform="translate(973,1034)">
<circle cx="334" cy="514" r="11" fill="#231815"/>
<text x="347" y="523" font-size="24" letter-spacing="1.5">标准库存</text>
<text x="453" y="524" font-size="20" style="fill:#3e3a39">Standard inventory</text>
<circle cx="649.5" cy="514" r="10" class="o"/>
<text x="664" y="523" font-size="24" letter-spacing="1.5">订单生产</text>
<text x="769" y="524" font-size="20" style="fill:#3e3a39">Order production</text>
</g>
</svg>
</body>
</html>
